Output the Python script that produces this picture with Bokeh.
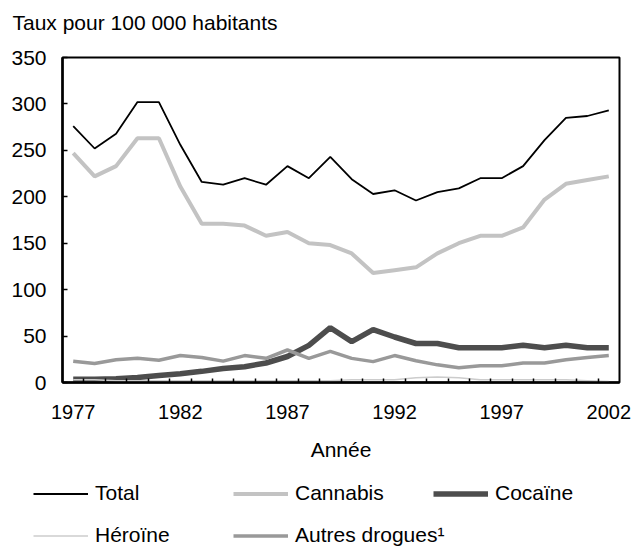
from bokeh.plotting import figure
from bokeh.models import Range1d, FixedTicker, Legend, LegendItem
from bokeh.layouts import column
from bokeh.embed import file_html
from bokeh.resources import INLINE

# ---- data ----
years = list(range(1977, 2003))
total = [276, 252, 268, 302, 302, 256, 216, 213, 220, 213, 233, 220, 243,
         219, 203, 207, 196, 205, 209, 220, 220, 233, 261, 285, 287, 293]
cannabis = [247, 222, 233, 263, 263, 211, 171, 171, 169, 158, 162, 150, 148,
            139, 118, 121, 124, 139, 150, 158, 158, 167, 197, 214, 218, 222]
cocaine = [3.5, 3.5, 4, 5.5, 7.5, 9.5, 12, 15, 17, 21, 28, 40, 59,
           44, 57, 49, 42, 42, 37.5, 37.5, 37.5, 40, 37.5, 40, 37.5, 37.5]
heroine = [3, 3, 2, 2, 2, 2, 2, 2, 2, 2, 2, 2, 2,
           3, 3, 3, 5, 6, 5, 3, 3, 3, 3, 3, 2, 1]
autres = [23, 20.5, 24.5, 26, 24, 29, 27, 23, 29, 26, 35, 26, 33.5,
          26, 22.5, 29, 23.5, 19, 16, 18, 18, 21, 21, 24.5, 27, 29]
x_tick_labels = [1977, 1982, 1987, 1992, 1997, 2002]
y_ticks = [0, 50, 100, 150, 200, 250, 300, 350]

series = [
    ("Total", total, "black", 1.8),
    ("Cannabis", cannabis, "#c3c3c3", 4),
    ("Cocaïne", cocaine, "#4d4d4d", 5.5),
    ("Héroïne", heroine, "#cccccc", 1.5),
    ("Autres drogues¹", autres, "#999999", 3.5),
]

FONT = "Liberation Sans"

p = figure(width=639, height=470, output_backend="svg", toolbar_location=None,
           x_range=Range1d(1976.5, 2002.5), y_range=Range1d(0, 350),
           min_border_left=62, min_border_right=20, min_border_top=57,
           min_border_bottom=88,
           title="Taux pour 100 000 habitants\n")
p.frame_align = False
p.title.text_font = FONT
p.title.text_font_size = "21px"
p.title.text_font_style = "normal"
p.title.text_color = "black"
p.title.align = "left"
p.title.offset = -50
p.title.standoff = 2

p.grid.visible = False
p.outline_line_color = "black"
p.outline_line_width = 2
p.outline_line_alpha = 1
p.background_fill_color = "white"
p.border_fill_color = "white"

xa = p.xaxis[0]
xa.ticker = FixedTicker(ticks=x_tick_labels,
                        minor_ticks=[y + 0.5 for y in years[:-1]])
xa.major_tick_in = 0
xa.major_tick_out = 0
xa.minor_tick_in = 4
xa.minor_tick_out = 0
xa.minor_tick_line_color = "black"
xa.minor_tick_line_width = 1.5
xa.axis_line_width = 2.5
xa.axis_line_color = "black"
xa.major_label_text_font = FONT
xa.major_label_text_font_size = "20px"
xa.major_label_text_color = "black"
xa.major_label_standoff = 22
xa.axis_label = "Année"
xa.axis_label_text_font = FONT
xa.axis_label_text_font_size = "21px"
xa.axis_label_text_font_style = "normal"
xa.axis_label_text_color = "black"
xa.axis_label_standoff = 16

ya = p.yaxis[0]
ya.ticker = FixedTicker(ticks=y_ticks, minor_ticks=[])
ya.major_tick_in = 5
ya.major_tick_out = 0
ya.major_tick_line_width = 1.5
ya.minor_tick_in = 0
ya.minor_tick_out = 0
ya.axis_line_width = 2.5
ya.axis_line_color = "black"
ya.major_label_text_font = FONT
ya.major_label_text_font_size = "21px"
ya.major_label_text_color = "black"
ya.major_label_standoff = 16

for name, vals, color, lw in series:
    p.line(years, vals, line_color=color, line_width=lw)

# legend strip below the chart
q = figure(width=639, height=79, output_backend="svg", toolbar_location=None,
           x_range=Range1d(0, 1), y_range=Range1d(0, 1),
           x_axis_location=None, y_axis_location=None,
           min_border_left=0, min_border_right=0, min_border_top=0,
           min_border_bottom=0)
q.frame_align = False
q.grid.visible = False
q.outline_line_color = None
q.background_fill_color = "white"
q.border_fill_color = "white"

items = []
for name, vals, color, lw in series:
    r = q.line(years, vals, line_color=color, line_width=lw, visible=False)
    items.append(LegendItem(label=name, renderers=[r]))

def make_legend(its, loc):
    return Legend(items=its, orientation="horizontal", location=loc,
                  padding=0, margin=0, spacing=0,
                  glyph_width=55, glyph_height=25, label_standoff=7,
                  label_width=138, label_height=25,
                  border_line_alpha=0, background_fill_alpha=0,
                  inactive_fill_alpha=0,
                  label_text_font=FONT, label_text_font_size="21px",
                  label_text_color="black")

q.add_layout(make_legend(items[:3], (33, 43.5)), "center")
q.add_layout(make_legend(items[3:], (33, 1.5)), "center")

layout = column(p, q, spacing=0)
open("out.html", "w").write(file_html(layout, INLINE))
